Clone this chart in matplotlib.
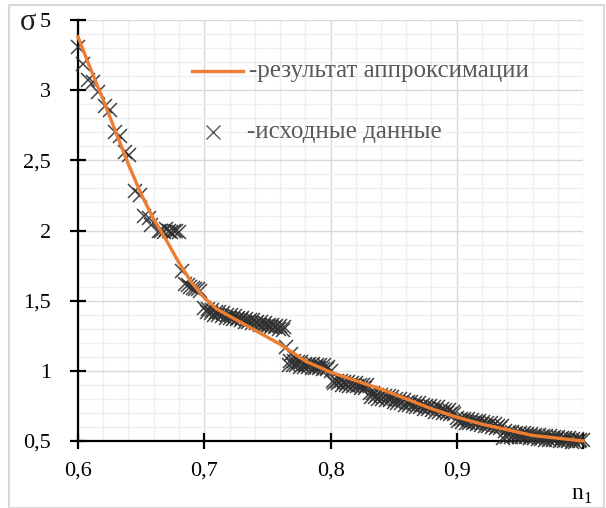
import matplotlib.pyplot as plt
from matplotlib.patches import Rectangle
from matplotlib.ticker import MultipleLocator

# approximation curve
curve_x = [0.600, 0.610, 0.620, 0.630, 0.640, 0.650, 0.660, 0.670, 0.680, 0.690,
           0.700, 0.710, 0.720, 0.730, 0.740, 0.750, 0.760, 0.770, 0.780, 0.790,
           0.800, 0.820, 0.840, 0.860, 0.880, 0.900, 0.920, 0.940, 0.960, 0.980, 1.000]
curve_y = [3.38, 3.15, 2.93, 2.70, 2.47, 2.26, 2.08, 1.93, 1.77, 1.63,
           1.52, 1.44, 1.39, 1.34, 1.29, 1.24, 1.19, 1.13, 1.07, 1.03,
           0.99, 0.93, 0.87, 0.80, 0.73, 0.67, 0.62, 0.58, 0.54, 0.52, 0.50]

# source data points, grouped by stretch
pts_x_a = [0.600, 0.604, 0.608, 0.612, 0.616, 0.621, 0.625, 0.629, 0.633, 0.637, 0.640,
           0.645, 0.649, 0.652, 0.656, 0.658, 0.664, 0.666, 0.668, 0.670, 0.672, 0.674,
           0.676, 0.678, 0.680, 0.682, 0.685, 0.687, 0.689, 0.691, 0.693, 0.695, 0.697,
           0.765, 0.769]
pts_y_a = [3.31, 3.19, 3.07, 3.06, 2.99, 2.89, 2.86, 2.70, 2.67, 2.56, 2.54,
           2.28, 2.25, 2.10, 2.09, 2.04, 2.00, 2.00, 1.99, 2.01, 2.00, 1.99,
           2.00, 2.00, 1.99, 1.71, 1.62, 1.61, 1.60, 1.59, 1.58, 1.58, 1.57,
           1.17, 1.12]

pts_x_d = [0.700, 0.703, 0.706, 0.709, 0.712, 0.715, 0.718, 0.721, 0.724, 0.727, 0.730,
           0.733, 0.736, 0.739, 0.742, 0.745, 0.748, 0.751, 0.754, 0.757, 0.760, 0.763,
           0.702, 0.705, 0.708, 0.711, 0.714, 0.717, 0.720, 0.723, 0.726, 0.729, 0.732,
           0.735, 0.738, 0.741, 0.744, 0.747, 0.750, 0.753, 0.756, 0.759, 0.762]
pts_y_d = [1.45, 1.44, 1.43, 1.42, 1.42, 1.41, 1.40, 1.40, 1.39, 1.38, 1.38,
           1.37, 1.36, 1.36, 1.35, 1.35, 1.34, 1.33, 1.33, 1.32, 1.32, 1.31,
           1.42, 1.41, 1.40, 1.40, 1.39, 1.38, 1.38, 1.37, 1.37, 1.36, 1.35,
           1.35, 1.34, 1.34, 1.33, 1.32, 1.32, 1.31, 1.31, 1.30, 1.29]

pts_x_f = [0.768, 0.771, 0.774, 0.777, 0.780, 0.783, 0.786, 0.789, 0.792, 0.795, 0.798,
           0.767, 0.770, 0.773, 0.776, 0.779, 0.782, 0.785, 0.788, 0.791, 0.794, 0.797, 0.800,
           0.802, 0.805, 0.808, 0.811, 0.814, 0.817, 0.820, 0.823, 0.826, 0.829,
           0.803, 0.806, 0.809, 0.812, 0.815, 0.818, 0.821, 0.824, 0.827]
pts_y_f = [1.07, 1.07, 1.06, 1.06, 1.05, 1.05, 1.05, 1.04, 1.04, 1.04, 1.03,
           1.04, 1.04, 1.04, 1.03, 1.03, 1.03, 1.02, 1.02, 1.02, 1.01, 1.01, 1.00,
           0.93, 0.93, 0.93, 0.92, 0.92, 0.91, 0.91, 0.90, 0.90, 0.90,
           0.91, 0.91, 0.90, 0.90, 0.89, 0.89, 0.89, 0.88, 0.88]

pts_x_h = [0.831, 0.834, 0.837, 0.840, 0.843, 0.846, 0.849, 0.852, 0.855, 0.858, 0.861, 0.864,
           0.867, 0.870, 0.873, 0.876, 0.879, 0.882, 0.885, 0.888, 0.891, 0.894, 0.897,
           0.832, 0.835, 0.838, 0.841, 0.844, 0.847, 0.850, 0.853, 0.856, 0.859, 0.862, 0.865,
           0.868, 0.871, 0.874, 0.877, 0.880, 0.883, 0.886, 0.889, 0.892, 0.895, 0.898]
pts_y_h = [0.84, 0.84, 0.83, 0.83, 0.82, 0.82, 0.81, 0.80, 0.80, 0.79, 0.78, 0.78,
           0.77, 0.77, 0.76, 0.75, 0.75, 0.74, 0.74, 0.73, 0.72, 0.72, 0.71,
           0.81, 0.81, 0.80, 0.80, 0.79, 0.79, 0.78, 0.77, 0.77, 0.76, 0.76, 0.75,
           0.74, 0.74, 0.73, 0.73, 0.72, 0.71, 0.71, 0.70, 0.70, 0.69, 0.69]

pts_x_j = [0.900, 0.903, 0.906, 0.909, 0.912, 0.915, 0.918, 0.921, 0.924, 0.927, 0.930, 0.933, 0.936,
           0.901, 0.904, 0.907, 0.910, 0.913, 0.916, 0.919, 0.922, 0.925, 0.928, 0.931, 0.934,
           0.938, 0.941, 0.944, 0.947, 0.950, 0.953, 0.956, 0.959, 0.962, 0.965, 0.968,
           0.971, 0.974, 0.977, 0.980, 0.983, 0.986, 0.989, 0.992, 0.995, 0.998,
           0.937, 0.940, 0.943, 0.946, 0.949, 0.952, 0.955, 0.958, 0.961, 0.964, 0.967,
           0.970, 0.973, 0.976, 0.979, 0.982, 0.985, 0.988, 0.991, 0.994, 0.997, 1.000]
pts_y_j = [0.665, 0.66, 0.66, 0.655, 0.65, 0.645, 0.64, 0.635, 0.63, 0.625, 0.62, 0.61, 0.605,
           0.64, 0.635, 0.63, 0.63, 0.625, 0.62, 0.615, 0.61, 0.605, 0.60, 0.595, 0.59,
           0.57, 0.566, 0.563, 0.56, 0.557, 0.554, 0.551, 0.548, 0.545, 0.542, 0.539,
           0.536, 0.533, 0.530, 0.527, 0.524, 0.521, 0.518, 0.515, 0.512, 0.509,
           0.52, 0.525, 0.53, 0.53, 0.53, 0.525, 0.525, 0.52, 0.52, 0.515, 0.515,
           0.51, 0.51, 0.505, 0.505, 0.50, 0.50, 0.50, 0.495, 0.495, 0.50, 0.505]

x_ticks = [0.6, 0.7, 0.8, 0.9, 1.0]
x_labels = ["0,6", "0,7", "0,8", "0,9", ""]
y_ticks = [0.5, 1.0, 1.5, 2.0, 2.5, 3.0, 3.5]
# top label is partly hidden behind the sigma in the original, only "5" shows
y_labels = ["0,5", "1", "1,5", "2", "2,5", "3", "5"]

plt.rcParams['font.family'] = 'serif'
plt.rcParams['font.serif'] = ['Liberation Serif', 'DejaVu Serif']
plt.rcParams['mathtext.fontset'] = 'custom'
plt.rcParams['mathtext.rm'] = 'Liberation Serif'

W, H = 606, 508
fig = plt.figure(figsize=(W / 100, H / 100), dpi=100)
ax = fig.add_axes([78 / W, 1 - 441 / H, (583 - 78) / W, (441 - 20) / H])

ax.set_xlim(0.6, 1.0)
ax.set_ylim(0.5, 3.5)
ax.xaxis.set_minor_locator(MultipleLocator(0.02))
ax.yaxis.set_minor_locator(MultipleLocator(0.1))
ax.set_xticks(x_ticks, x_labels)
ax.set_yticks(y_ticks, y_labels)
ax.grid(True, which='major', color='#d9d9d9', lw=1.0)
ax.grid(True, which='minor', color='#efefef', lw=1.0)
ax.set_axisbelow(True)
ax.tick_params(which='major', direction='inout', length=11, width=1.6, labelsize=16)
ax.tick_params(axis='x', pad=9)
ax.tick_params(axis='y', pad=14)
ax.tick_params(which='minor', length=0)
for s in ['top', 'right']:
    ax.spines[s].set_visible(False)
for s in ['left', 'bottom']:
    ax.spines[s].set_linewidth(1.6)

mk = dict(ls='none', marker='x', ms=10, mew=1.1, color='#2e2e2e', alpha=0.9, clip_on=False, zorder=3)
for px, py in [(pts_x_a, pts_y_a), (pts_x_d, pts_y_d), (pts_x_f, pts_y_f),
               (pts_x_h, pts_y_h), (pts_x_j, pts_y_j)]:
    ax.plot(px, py, **mk)
ax.plot(curve_x, curve_y, color='#ED7D31', lw=2.4, zorder=4, clip_on=False)

# hand-drawn legend, as in the original
ax.plot([0.6904, 0.7308], [3.14, 3.14], color='#ED7D31', lw=2.4, zorder=4)
ax.text(0.7355, 3.14, "-результат аппроксимации", fontsize=18, color='#595959',
        va='center', ha='left')
ax.plot([0.7073], [2.70], ls='none', marker='x', ms=10, mew=1.0, color='#595959')
ax.text(0.7340, 2.70, "-исходные данные", fontsize=18, color='#595959',
        va='center', ha='left')

fig.text(28 / W, 1 - 22 / H, "σ", fontsize=22, ha='center', va='center', color='#1f1f1f')
fig.text(582 / W, 1 - 496 / H, "n$_1$", fontsize=17, ha='center', va='center')

fig.add_artist(Rectangle((9 / W, 0), (604 - 9) / W, 1 - 5 / H, transform=fig.transFigure,
                         fill=False, edgecolor='#d9d9d9', lw=1.5))

fig.savefig("out.png", dpi=100)
